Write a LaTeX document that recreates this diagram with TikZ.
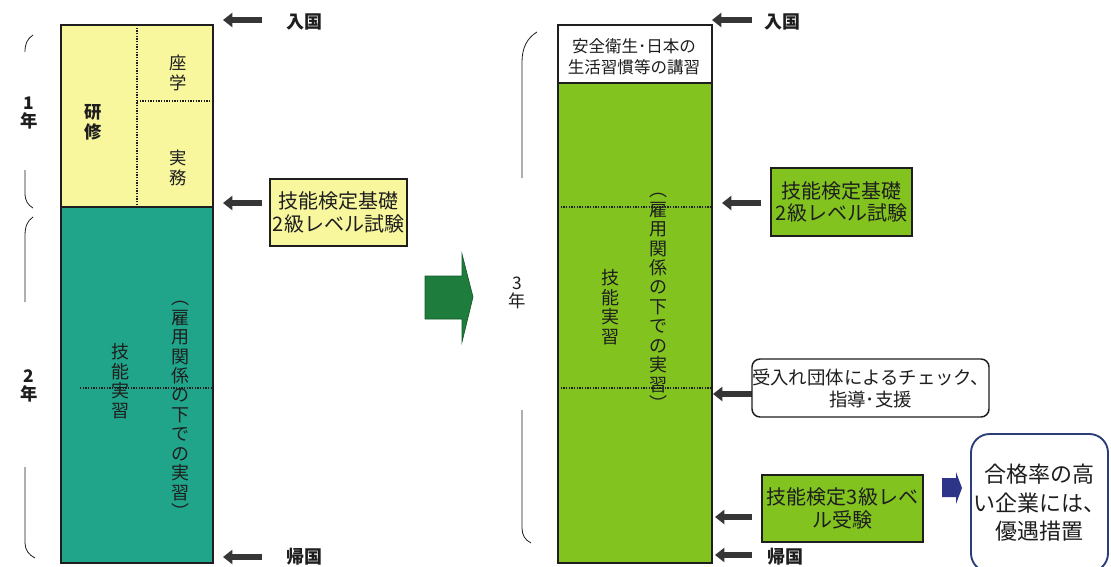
\documentclass[tikz,border=0pt]{standalone}
\usepackage{fontspec}
\setmainfont{Noto Sans CJK JP}
\usetikzlibrary{arrows.meta}
\definecolor{yel}{HTML}{F8F79E}
\definecolor{tealc}{HTML}{20A58A}
\definecolor{limec}{HTML}{82C320}
\definecolor{darrow}{HTML}{363636}
\definecolor{garrow}{HTML}{1E7D3C}
\definecolor{barrow}{HTML}{2C3587}
\definecolor{bborder}{HTML}{2B3D78}
\definecolor{inkc}{HTML}{1E1E1E}
\tikzset{
  colborder/.style={draw=inkc, line width=1.5pt},
  dotline/.style={draw=inkc, line width=1pt, densely dotted},
  bigarr/.style={draw=darrow, line width=4.4pt, -{Triangle[length=7pt,width=10.5pt]}},
  brk/.style={draw=inkc, line width=0.6pt},
  lbl/.style={inner sep=0pt, align=center, text=inkc},
  vtxt/.style={inner sep=0pt, align=center, text=inkc, font=\fontsize{13.5}{14.6}\selectfont},
  sqbox/.style={draw=inkc, line width=1.1pt, inner sep=0pt, align=center, text=inkc},
}
\begin{document}
\begin{tikzpicture}[x=0.75pt,y=-0.75pt]
\useasboundingbox (0,0) rectangle (1111,567);
\fill[white] (0,0) rectangle (1111,567);

% ---------- left column ----------
\fill[yel] (61,25) rectangle (213,207);
\fill[tealc] (61,207) rectangle (213,563);
\draw[dotline] (137,25) -- (137,207);
\draw[dotline] (137,101) -- (213,101);
\draw[dotline] (80,388) -- (213,388);
\draw[colborder] (61,25) rectangle (213,563);
\draw[colborder] (61,207) -- (213,207);

\node[lbl, font=\bfseries\fontsize{13}{15}\selectfont] (kenshu) at (93,122) {研\\修};
\node[lbl, font=\fontsize{13}{15}\selectfont] (zagaku) at (178,73) {座\\学};
\node[lbl, font=\fontsize{13}{15}\selectfont] (jitsumu) at (178,168) {実\\務};
\node[vtxt] (ginoL) at (120,381) {技\\能\\実\\習};
\node[vtxt] (koyoL) at (180,410) {︵\\雇\\用\\関\\係\\の\\下\\で\\の\\実\\習\\︶};

% left brackets and year labels
\draw[brk] (33,35) .. controls (27,39) and (25,44) .. (25,52);
\draw[brk] (25,170) -- (25,193) .. controls (25,201) and (28,205) .. (33,208);
\node[lbl, font=\bfseries\fontsize{13}{13}\selectfont] (y1) at (29,113) {1\\年};
\draw[brk] (33,217) .. controls (27,221) and (25,227) .. (25,236) -- (25,302);
\draw[brk] (25,467) -- (25,543) .. controls (25,550) and (29,555) .. (35,558);
\node[lbl, font=\bfseries\fontsize{13}{13}\selectfont] (y2) at (29,386) {2\\年};

% left arrows and labels
\coordinate (la1s) at (262,20); \coordinate (la1e) at (223,20);
\coordinate (la2s) at (262,203); \coordinate (la2e) at (223,203);
\coordinate (la3s) at (262,557); \coordinate (la3e) at (223,557);
\draw[bigarr] (la1s) -- (la1e);
\draw[bigarr] (la2s) -- (la2e);
\draw[bigarr] (la3s) -- (la3e);
\node[lbl, font=\bfseries\fontsize{13.5}{15}\selectfont] (nyukokuL) at (304,22) {入国};
\node[lbl, font=\bfseries\fontsize{13.5}{15}\selectfont] (kikokuL) at (304,557) {帰国};
\node[sqbox, fill=yel, minimum width=102.75pt, minimum height=50.25pt,
      font=\fontsize{15}{17}\selectfont] (ybox) at (338.5,212.5) {技能検定基礎\\2級レベル試験};

% ---------- big green arrow ----------
\filldraw[fill=garrow, draw=garrow!70!black, line width=0.5pt]
  (425,276) -- (462,276) -- (462,254) -- (473,297) -- (462,342) -- (462,319) -- (425,319) -- cycle;
\node[lbl, font=\fontsize{13}{13}\selectfont] (y3) at (517,293) {3\\年};

% right bracket
\draw[brk] (537,32) .. controls (527,38) and (522,48) .. (522,62) -- (522,178);
\draw[brk] (522,410) -- (522,528) .. controls (522,535) and (525,540) .. (531,543);

% ---------- right column ----------
\fill[white] (558,25) rectangle (712,83);
\fill[limec] (558,83) rectangle (712,563);
\draw[dotline] (558,207) -- (712,207);
\draw[dotline] (558,388) -- (712,388);
\draw[colborder] (558,25) rectangle (712,563);
\draw[colborder] (558,83) -- (712,83);
\node[lbl, font=\fontsize{12.4}{16}\selectfont] (kosyu) at (634,57) {安全衛生･日本の\\生活習慣等の講習};
\node[vtxt] (ginoR) at (610,307) {技\\能\\実\\習};
\node[vtxt] (koyoR) at (658,302) {︵\\雇\\用\\関\\係\\の\\下\\で\\の\\実\\習\\︶};

% right arrows and labels
\coordinate (ra1s) at (752,20); \coordinate (ra1e) at (712,20);
\coordinate (ra2s) at (761,203); \coordinate (ra2e) at (722,203);
\coordinate (ra3s) at (752,394); \coordinate (ra3e) at (713,394);
\coordinate (ra4s) at (752,517); \coordinate (ra4e) at (715,517);
\coordinate (ra5s) at (752,555); \coordinate (ra5e) at (715,555);
\draw[bigarr] (ra1s) -- (ra1e);
\draw[bigarr] (ra2s) -- (ra2e);
\draw[bigarr] (ra3s) -- (ra3e);
\draw[bigarr] (ra4s) -- (ra4e);
\draw[bigarr] (ra5s) -- (ra5e);
\node[lbl, font=\bfseries\fontsize{13.5}{15}\selectfont] (nyukokuR) at (782,22) {入国};
\node[lbl, font=\bfseries\fontsize{13.5}{15}\selectfont] (kikokuR) at (785,557) {帰国};

\node[sqbox, fill=limec, minimum width=105.75pt, minimum height=51pt,
      font=\fontsize{15}{17}\selectfont] (gbox1) at (841.5,202) {技能検定基礎\\2級レベル試験};
\node[sqbox, fill=white, rounded corners=6pt, minimum width=177.75pt, minimum height=43.5pt,
      font=\fontsize{13.8}{16.5}\selectfont] (ubox) at (870.5,388) {受入れ団体によるチェック、\\指導･支援};
\node[sqbox, fill=limec, minimum width=120.75pt, minimum height=50.25pt,
      font=\fontsize{15}{17}\selectfont] (gbox2) at (842.5,508.5) {技能検定3級レベ\\ル受験};

% blue arrow
\fill[barrow] (942,478) -- (956,478) -- (956,472) -- (962,488) -- (956,504) -- (956,497) -- (942,497) -- cycle;

\node[draw=bborder, line width=1.4pt, rounded corners=14pt, fill=white, inner sep=0pt, align=center,
      text=inkc, minimum width=102.75pt, minimum height=103.5pt,
      font=\fontsize{16.5}{21.5}\selectfont] (pbox) at (1039.5,503) {合格率の高\\い企業には、\\優遇措置};
\end{tikzpicture}
\end{document}
